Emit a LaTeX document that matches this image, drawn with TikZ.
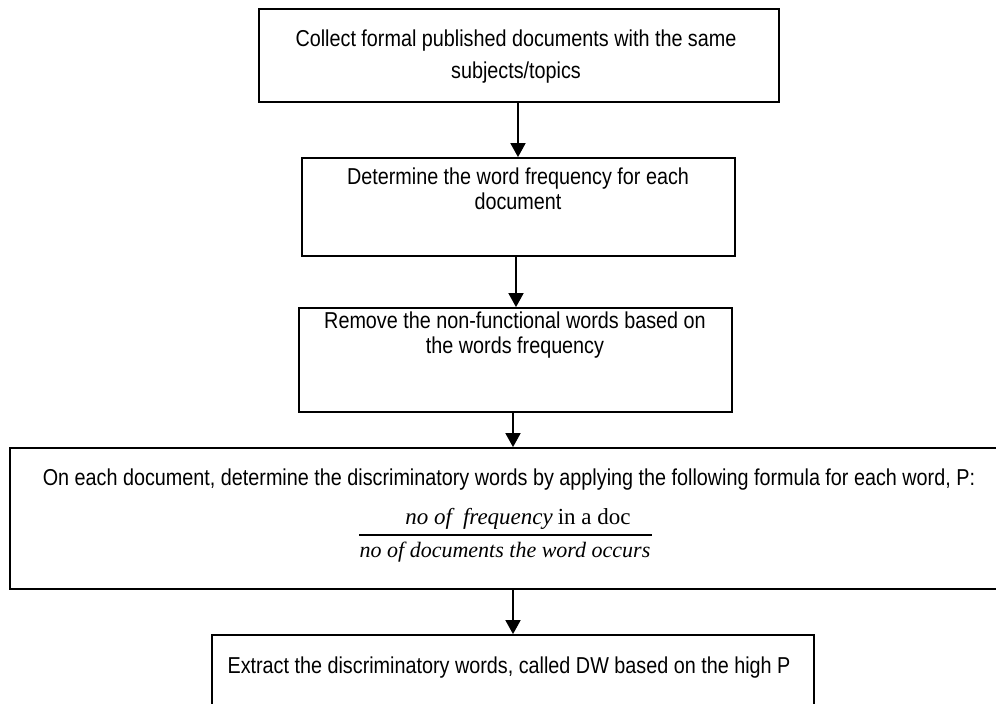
\documentclass[tikz,border=0pt]{standalone}
\usepackage{fontspec}
\setmainfont[FakeStretch=0.86]{Liberation Sans}
\newfontfamily\tnr{Liberation Serif}
\usetikzlibrary{arrows.meta}
\begin{document}
\begin{tikzpicture}[x=1pt,y=-1pt,
  stepbox/.style={draw=black, line width=1.8pt, inner sep=0pt},
  txt/.style={align=center, inner sep=0pt, font=\fontsize{23}{25}\selectfont},
  conn/.style={line width=1.8pt, -{Triangle[length=14pt,width=15pt]}},
  frac/.style={inner sep=0pt, font=\fontsize{22}{24}\selectfont\tnr}]
\useasboundingbox (0,0) rectangle (996,704);
\clip (0,0) rectangle (996,704);
% boxes
\node[stepbox, minimum width=520pt, minimum height=93pt] (b1) at (519,55.5) {};
\node[stepbox, minimum width=433pt, minimum height=98pt] (b2) at (518.5,207) {};
\node[stepbox, minimum width=433pt, minimum height=104pt] (b3) at (515.5,360) {};
\node[stepbox, minimum width=1000pt, minimum height=141pt] (b4) at (510,518.5) {};
\node[stepbox, minimum width=602pt, minimum height=90pt] (b5) at (513,680) {};
% texts
\node[txt, font=\fontsize{23}{32}\selectfont] (t1) at (516,57) {Collect formal published documents with the same\\subjects/topics};
\node[txt] (t2) at (518,189) {Determine the word frequency for each\\document};
\node[txt] (t3) at (515,335) {Remove the non-functional words based on\\the words frequency};
\node[txt] (t4) at (509,480) {On each document, determine the discriminatory words by applying the following formula for each word, P:};
\node[frac, font=\fontsize{23}{24}\selectfont\tnr] (num) at (518,519) {\itshape no of\hspace{11pt}frequency\upshape\hspace{5pt}in a doc};
\node[frac] (den) at (505,552) {\itshape no of\ documents the word occurs};
\coordinate (fl) at (359,535);
\coordinate (fr) at (652,535);
\draw[line width=1.3pt] (fl) -- (fr);
\node[txt] (t5) at (509,668) {Extract the discriminatory words, called DW based on the high P};
% connectors
\draw[conn] (b1.south -| 518,0) -- (b2.north -| 518,0);
\draw[conn] (b2.south -| 516,0) -- (b3.north -| 516,0);
\draw[conn] (b3.south -| 513,0) -- (b4.north -| 513,0);
\draw[conn] (b4.south -| 513,0) -- (b5.north -| 513,0);
\end{tikzpicture}
\end{document}
